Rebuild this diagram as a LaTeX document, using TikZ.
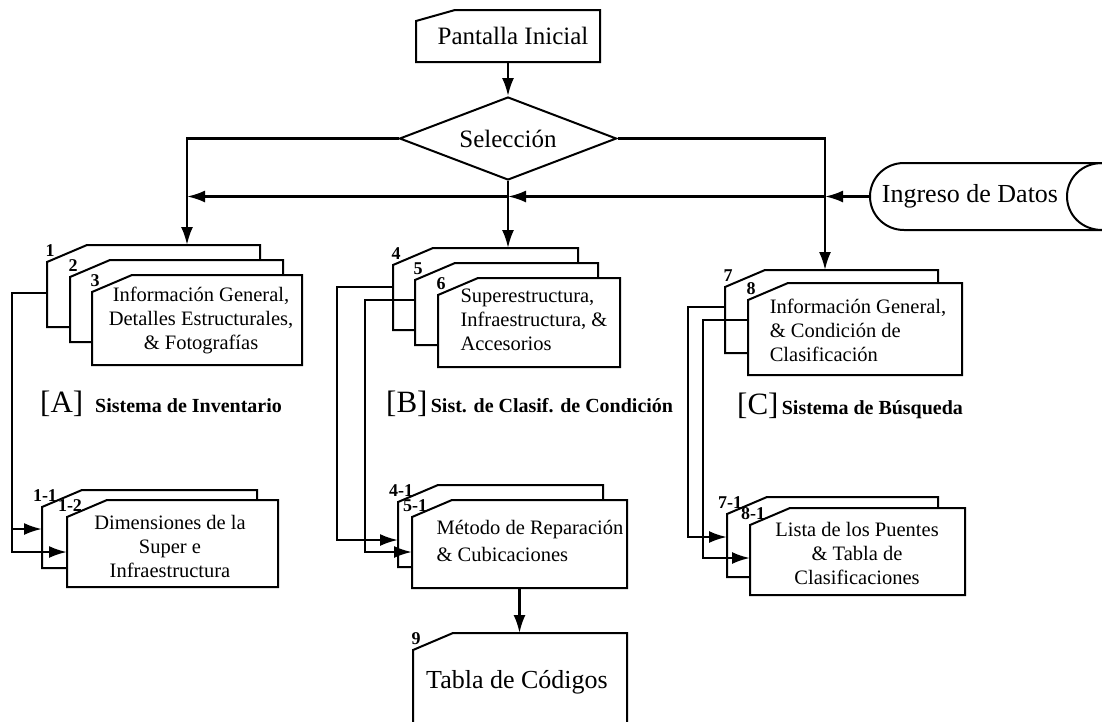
\documentclass[tikz,border=0pt]{standalone}
\usepackage{fontspec}
\setmainfont{Liberation Serif}
\usetikzlibrary{shapes.geometric,arrows.meta,fit}

\tikzset{
  cardline/.style={draw=black, fill=white, line width=2pt, line join=miter},
  cardarea/.style={inner sep=0pt, outer sep=0pt},
  wire/.style={draw=black, line width=2.4pt},
  arr/.style={wire, -{Latex[length=18pt,width=12pt]}},
  numlbl/.style={font=\fontsize{18}{18}\selectfont\bfseries, anchor=south, inner sep=1pt},
  body/.style={font=\fontsize{20.5}{24}\selectfont, align=center, inner sep=0pt},
  bodyl/.style={body, align=left},
  syslbl/.style={font=\fontsize{20}{20}\selectfont\bfseries, inner sep=0pt},
  big/.style={font=\fontsize{25}{25}\selectfont, inner sep=0pt}
}

% card with cut corner: name, left, top, right, bottom, number
\newcommand{\cardbox}[6]{%
  \filldraw[cardline] (#2,#5) -- (#2,#3+17) -- (#2+40,#3) -- (#4,#3) -- (#4,#5) -- cycle;
  \node[cardarea, fit={(#2,#3) (#4,#5)}] (#1) {};
  \node[numlbl] (#1-n) at (#2+3,#3+13) {#6};
}

\begin{document}
\begin{tikzpicture}[x=1pt,y=-1pt]
\useasboundingbox (0,0) rectangle (1102,721);

% start screen and selection
\filldraw[cardline] (416,62) -- (416,21) -- (455,10) -- (600,10) -- (600,62) -- cycle;
\node[cardarea, fit={(416,10) (600,62)}] (pant) {};
\node[big] (pant-t) at (513,36) {Pantalla Inicial};
\node[diamond, draw, line width=2pt, aspect=2.6, minimum width=217pt, minimum height=83pt,
  inner sep=0pt, font=\fontsize{25}{25}\selectfont] (sel) at (508,138.5) {Selección};

% data input
\draw[cardline] (1102,163) -- (904,163) .. controls (885,163) and (870,178) .. (870,196.5)
  .. controls (870,215) and (885,230) .. (904,230) -- (1102,230);
\draw[cardline, fill=none] (1102,163) .. controls (1082,163) and (1067,178) .. (1067,196.5)
  .. controls (1067,215) and (1082,230) .. (1102,230);
\node[big, font=\fontsize{26}{26}\selectfont, minimum width=200pt] (ing) at (970,196.5) {Ingreso de Datos};

% [A]
\cardbox{c1}{47}{245}{260}{327}{1}
\cardbox{c2}{70}{260}{283}{342}{2}
\cardbox{c3}{92}{275}{302}{365}{3}
% [B]
\cardbox{c4}{393}{248}{578}{330}{4}
\cardbox{c5}{415}{263}{598}{345}{5}
\cardbox{c6}{438}{278}{620}{367}{6}
% [C]
\cardbox{c7}{725}{270}{938}{353}{7}
\cardbox{c8}{748}{283}{962}{375}{8}
% second level
\cardbox{c11}{42}{490}{257}{568}{1-1}
\cardbox{c12}{67}{500}{278}{587}{1-2}
\cardbox{c41}{398}{485}{603}{567}{4-1}
\cardbox{c51}{412}{500}{627}{588}{5-1}
\cardbox{c71}{727}{497}{938}{577}{7-1}
\cardbox{c81}{750}{508}{965}{595}{8-1}
\cardbox{c9}{413}{633}{627}{740}{9}

\coordinate (dA) at ([xshift=140pt]c1.north west);
\coordinate (dB) at ([xshift=115pt]c4.north west);
\coordinate (dC) at ([xshift=100pt]c7.north west);

% connectors
\draw[arr] (pant.south) -- (sel.north);
\draw[arr] (sel.west) -| (dA);
\draw[arr] (sel.south) -- (dB);
\draw[arr] (sel.east) -| (dC);
\draw[arr] (ing.west) -- (ing.west -| dC);
\draw[arr] (ing.west -| dC) -- (ing.west -| dB);
\draw[arr] (ing.west -| dB) -- (ing.west -| dA);

\draw[arr] (c1.west |- 0,293) -- ++(-35,0) |- (c11.west);
\draw[arr] (c1.west |- 0,293) -- ++(-35,0) |- (c12.west |- 0,552);
\draw[arr] (c4.west |- 0,287) -- ++(-56,0) |- (c41.west |- 0,540);
\draw[arr] (c5.west |- 0,300) -- ++(-50,0) |- (c51.west |- 0,552);
\draw[arr] (c7.west |- 0,307) -- ++(-37,0) |- (c71.west |- 0,537);
\draw[arr] (c8.west |- 0,320) -- ++(-45,0) |- (c81.west |- 0,558);
\draw[arr] (c51.south) -- (c51.south |- c9.north);

% texts
\node[body] (t3) at (201,320) {Información General,\\Detalles Estructurales,\\\& Fotografías};
\node[bodyl] (t6) at (534,320) {Superestructura,\\Infraestructura, \&\\Accesorios};
\node[bodyl] (t8) at (858,330) {Información General,\\\& Condición de\\Clasificación};
\node[body] (t12) at (170,546) {Dimensiones de la\\Super e\\Infraestructura};
\node[bodyl, font=\fontsize{20.5}{27}\selectfont] (t51) at (530,541) {Método de Reparación\\\& Cubicaciones};
\node[body] (t81) at (857,553) {Lista de los Puentes\\\& Tabla de\\Clasificaciones};
\node[font=\fontsize{26}{26}\selectfont, inner sep=0pt] (t9) at (517,682) {Tabla de Códigos};

\node[syslbl, anchor=west] (sysA) at (40,404) {{\mdseries\fontsize{31}{31}\selectfont[A]}\hspace{12pt}Sistema de Inventario};
\node[syslbl, anchor=west] (sysB) at (386,404) {{\mdseries\fontsize{31}{31}\selectfont[B]}\,Sist. de Clasif. de Condición};
\node[syslbl, anchor=west] (sysC) at (737,406) {{\mdseries\fontsize{31}{31}\selectfont[C]}\,Sistema de Búsqueda};
\end{tikzpicture}
\end{document}
